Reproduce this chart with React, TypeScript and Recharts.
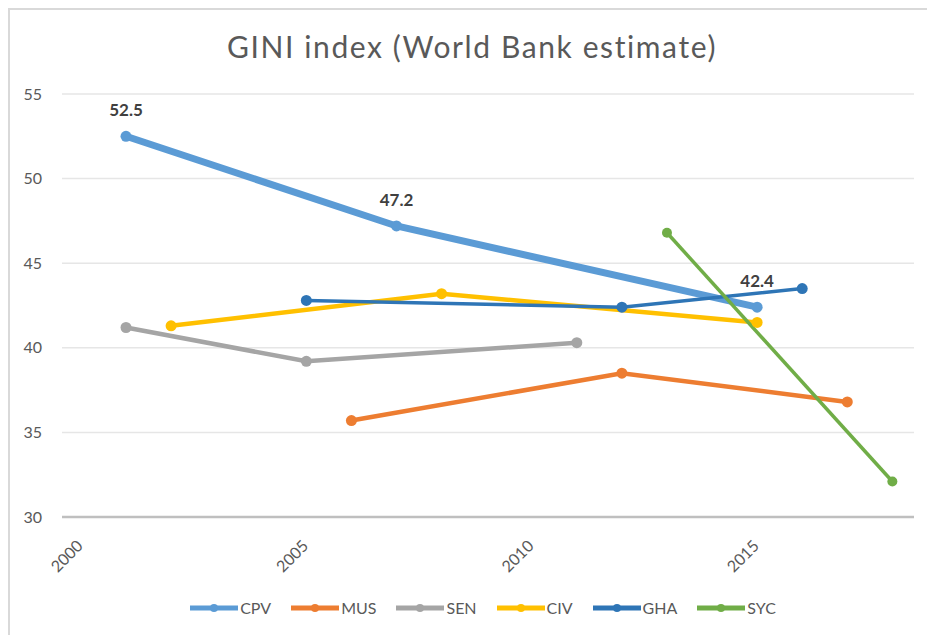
import React from "react";
import {
  LineChart,
  Line,
  XAxis,
  YAxis,
  CartesianGrid,
  LabelList,
} from "recharts";

const cpv = [
  { year: 2001, value: 52.5 },
  { year: 2007, value: 47.2 },
  { year: 2015, value: 42.4 },
];
const mus = [
  { year: 2006, value: 35.7 },
  { year: 2012, value: 38.5 },
  { year: 2017, value: 36.8 },
];
const sen = [
  { year: 2001, value: 41.2 },
  { year: 2005, value: 39.2 },
  { year: 2011, value: 40.3 },
];
const civ = [
  { year: 2002, value: 41.3 },
  { year: 2008, value: 43.2 },
  { year: 2015, value: 41.5 },
];
const gha = [
  { year: 2005, value: 42.8 },
  { year: 2012, value: 42.4 },
  { year: 2016, value: 43.5 },
];
const syc = [
  { year: 2013, value: 46.8 },
  { year: 2018, value: 32.1 },
];

const xTicks = [2000, 2005, 2010, 2015];
const yTicks = [30, 35, 40, 45, 50, 55];

const FONT = "Lato, 'Open Sans', sans-serif";
const TEXT = "#595959";

const series = [
  { name: "CPV", data: cpv, color: "#5B9BD5", width: 7, r: 5.5, label: true },
  { name: "MUS", data: mus, color: "#ED7D31", width: 4.5, r: 5.5, label: false },
  { name: "SEN", data: sen, color: "#A5A5A5", width: 4.5, r: 5.5, label: false },
  { name: "CIV", data: civ, color: "#FFC000", width: 4.5, r: 5.5, label: false },
  { name: "GHA", data: gha, color: "#2E75B6", width: 3.5, r: 5.5, label: false },
  { name: "SYC", data: syc, color: "#70AD47", width: 3.5, r: 5, label: false },
];

function XTick({ x, y, payload }: any) {
  const ax = x + 3;
  const ay = y + 22;
  return (
    <text
      x={ax}
      y={ay}
      textAnchor="end"
      transform={`rotate(-45, ${ax}, ${ay})`}
      fill={TEXT}
      fontSize={16}
      fontFamily={FONT}
    >
      {payload.value}
    </text>
  );
}

function ChartLegend() {
  return (
    <div
      style={{
        position: "absolute",
        left: 52,
        width: 862,
        top: 598,
        display: "flex",
        justifyContent: "center",
        gap: 20,
        fontFamily: FONT,
      }}
    >
      {series.map((s) => (
        <div key={s.name} style={{ display: "flex", alignItems: "center" }}>
          <svg width={48} height={12}>
            <line x1={0} y1={6} x2={48} y2={6} stroke={s.color} strokeWidth={5} />
            <circle cx={24} cy={6} r={4} fill={s.color} />
          </svg>
          <span style={{ fontSize: 16, color: TEXT, marginLeft: 2 }}>{s.name}</span>
        </div>
      ))}
    </div>
  );
}

export default function App() {
  return (
    <div
      style={{
        position: "absolute",
        left: 0,
        top: 0,
        width: 927,
        height: 635,
        background: "#fff",
        overflow: "hidden",
      }}
    >
      <div
        style={{
          position: "absolute",
          left: 8,
          top: 8,
          width: 940,
          height: 650,
          borderTop: "2px solid #D9D9D9",
          borderLeft: "2px solid #D9D9D9",
        }}
      />
      <div
        style={{
          position: "absolute",
          left: 0,
          width: 944,
          top: 27,
          textAlign: "center",
          fontFamily: FONT,
          fontSize: 30,
          letterSpacing: 1.6,
          color: TEXT,
          lineHeight: "38px",
        }}
      >
        GINI index (World Bank estimate)
      </div>
      <LineChart
        width={927}
        height={635}
        margin={{ top: 94, right: 13, bottom: 58, left: 22 }}
        style={{ position: "absolute", left: 0, top: 0 }}
      >
        <CartesianGrid vertical={false} stroke="#E6E6E6" strokeWidth={1.5} />
        <XAxis
          type="number"
          dataKey="year"
          domain={[1999.58, 2018.48]}
          allowDataOverflow
          ticks={xTicks}
          tick={<XTick />}
          tickLine={false}
          axisLine={{ stroke: "#BFBFBF", strokeWidth: 2.5 }}
          height={60}
          interval={0}
        />
        <YAxis
          type="number"
          domain={[30, 55]}
          ticks={yTicks}
          width={40}
          tickLine={false}
          axisLine={false}
          tickMargin={14}
          tick={{ fill: TEXT, fontSize: 16, fontFamily: FONT }}
        />
        {series.map((s) => (
          <Line
            key={s.name}
            data={s.data}
            dataKey="value"
            name={s.name}
            stroke={s.color}
            strokeWidth={s.width}
            dot={{ r: s.r, fill: s.color, stroke: s.color, strokeWidth: 0 }}
            activeDot={false}
            isAnimationActive={false}
          >
            {s.label && (
              <LabelList
                dataKey="value"
                position="top"
                offset={20}
                fill="#404040"
                fontSize={17}
                fontWeight="bold"
                fontFamily={FONT}
              />
            )}
          </Line>
        ))}
      </LineChart>
      <ChartLegend />
    </div>
  );
}
